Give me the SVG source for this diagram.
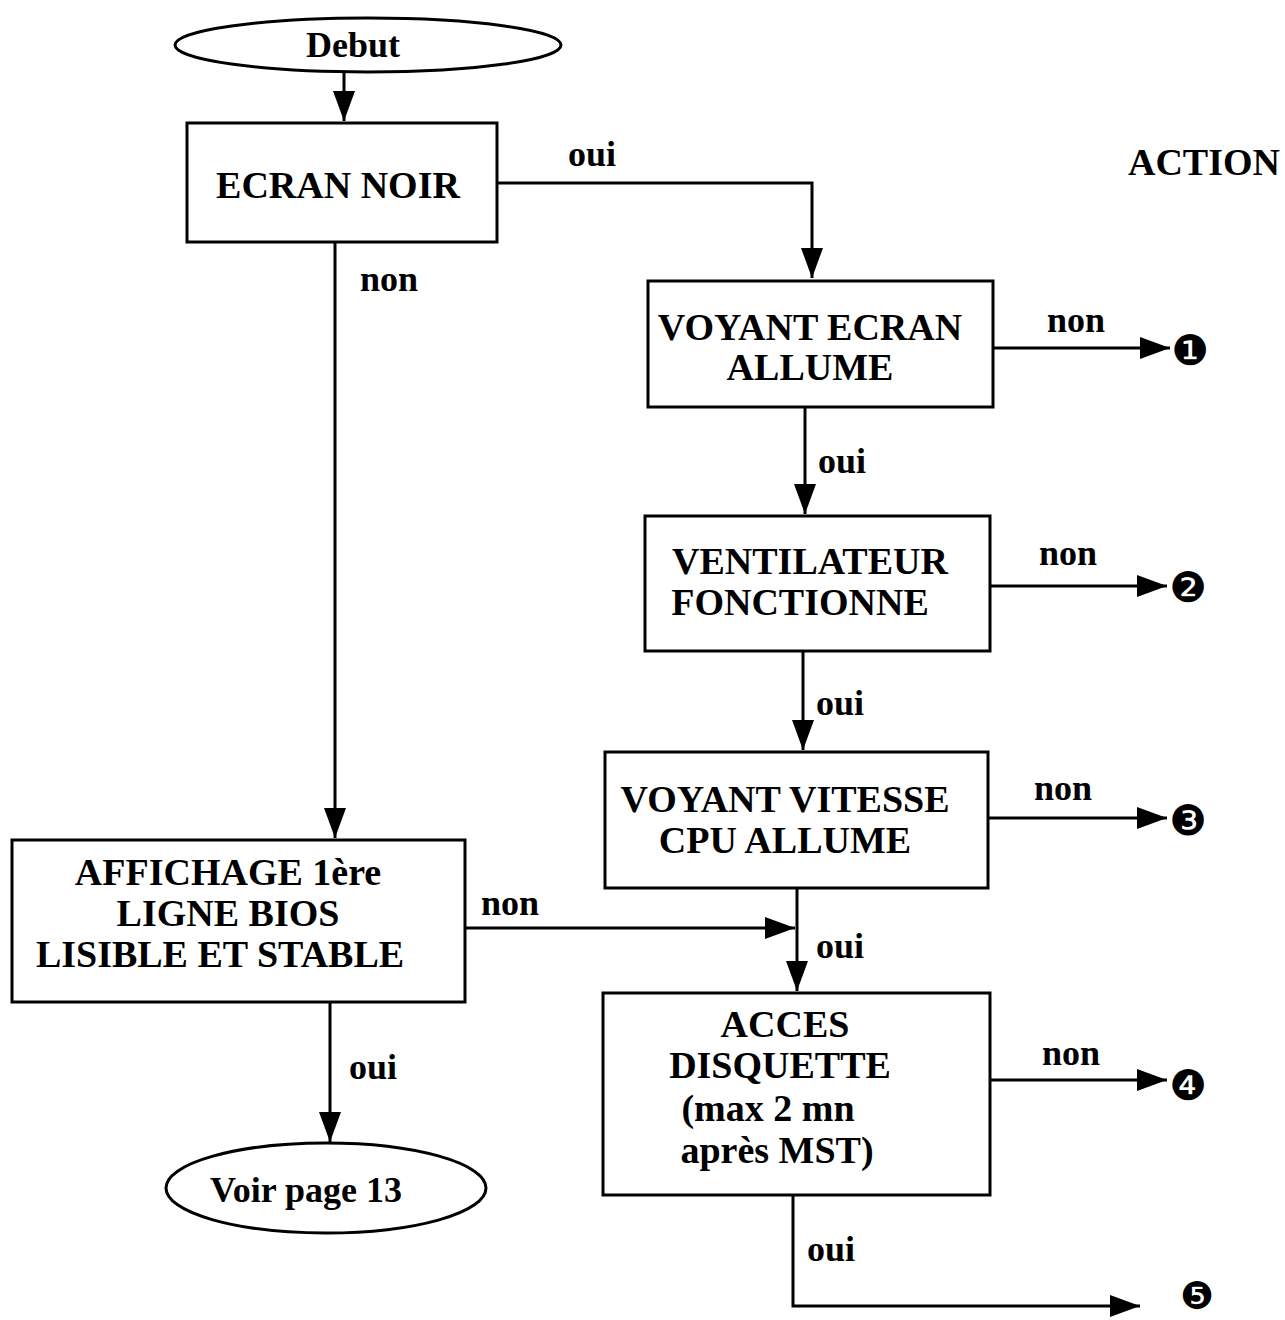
<svg xmlns="http://www.w3.org/2000/svg" width="1285" height="1320" viewBox="0 0 1285 1320">
<style>
.box{fill:#fff;stroke:#000;stroke-width:3}
.t{font-family:"Liberation Serif","Times New Roman",serif;font-weight:bold;font-size:38px;fill:#000;text-anchor:middle}
.l{font-family:"Liberation Serif","Times New Roman",serif;font-weight:bold;font-size:36px;fill:#000;text-anchor:middle}
.n{font-family:"DejaVu Sans",sans-serif;font-size:42px;fill:#000;text-anchor:middle}
.c{fill:none;stroke:#000;stroke-width:3}
</style>
<defs>
<marker id="ah" markerUnits="userSpaceOnUse" markerWidth="32" markerHeight="24" refX="30" refY="11" orient="auto">
<path d="M0,0 L30,11 L0,22 Z" fill="#000"/>
</marker>
</defs>
<rect width="1285" height="1320" fill="#fff"/>
<g id="connectors">
<path class="c" d="M344,72 V121" marker-end="url(#ah)"/>
<path class="c" d="M497,183 H812 V278" marker-end="url(#ah)"/>
<path class="c" d="M993,348 H1170" marker-end="url(#ah)"/>
<path class="c" d="M805,407 V514" marker-end="url(#ah)"/>
<path class="c" d="M990,586 H1167" marker-end="url(#ah)"/>
<path class="c" d="M803,651 V750" marker-end="url(#ah)"/>
<path class="c" d="M988,818 H1167" marker-end="url(#ah)"/>
<path class="c" d="M797,888 V991" marker-end="url(#ah)"/>
<path class="c" d="M335,242 V838" marker-end="url(#ah)"/>
<path class="c" d="M465,928 H795" marker-end="url(#ah)"/>
<path class="c" d="M990,1080 H1167" marker-end="url(#ah)"/>
<path class="c" d="M793,1195 V1306 H1140" marker-end="url(#ah)"/>
<path class="c" d="M330,1002 V1142" marker-end="url(#ah)"/>
<text class="l" x="592" y="166">oui</text>
<text class="l" x="389" y="291">non</text>
<text class="l" x="1076" y="332">non</text>
<text class="l" x="842" y="473">oui</text>
<text class="l" x="1068" y="565">non</text>
<text class="l" x="840" y="715">oui</text>
<text class="l" x="1063" y="800">non</text>
<text class="l" x="510" y="915">non</text>
<text class="l" x="840" y="958">oui</text>
<text class="l" x="1071" y="1065">non</text>
<text class="l" x="373" y="1079">oui</text>
<text class="l" x="831" y="1261">oui</text>
</g>
<g id="debut">
<ellipse class="box" cx="368" cy="45" rx="193" ry="27"/>
<text class="l" x="353" y="57">Debut</text>
</g>
<g id="ecran-noir">
<rect class="box" x="187" y="123" width="310" height="119"/>
<text class="t" x="338" y="198">ECRAN NOIR</text>
</g>
<g id="action">
<text class="t" x="1204" y="175">ACTION</text>
</g>
<g id="voyant-ecran">
<rect class="box" x="648" y="281" width="345" height="126"/>
<text class="t" x="810" y="340">VOYANT ECRAN</text>
<text class="t" x="810" y="380">ALLUME</text>
</g>
<g id="ventilateur">
<rect class="box" x="645" y="516" width="345" height="135"/>
<text class="t" x="810" y="574">VENTILATEUR</text>
<text class="t" x="800" y="615">FONCTIONNE</text>
</g>
<g id="voyant-vitesse">
<rect class="box" x="605" y="752" width="383" height="136"/>
<text class="t" x="785" y="812">VOYANT VITESSE</text>
<text class="t" x="785" y="853">CPU ALLUME</text>
</g>
<g id="affichage">
<rect class="box" x="12" y="840" width="453" height="162"/>
<text class="t" x="228" y="885">AFFICHAGE 1ère</text>
<text class="t" x="228" y="926">LIGNE BIOS</text>
<text class="t" x="220" y="967">LISIBLE ET STABLE</text>
</g>
<g id="acces">
<rect class="box" x="603" y="993" width="387" height="202"/>
<text class="t" x="785" y="1037">ACCES</text>
<text class="t" x="780" y="1078">DISQUETTE</text>
<text class="t" x="768" y="1121">(max 2 mn</text>
<text class="t" x="777" y="1163">après MST)</text>
</g>
<g id="voir-page">
<ellipse class="box" cx="326" cy="1188" rx="160" ry="45"/>
<text class="l" x="306" y="1202">Voir page 13</text>
</g>
<g id="actions">
<text class="n" x="1190" y="365">❶</text>
<text class="n" x="1188" y="602">❷</text>
<text class="n" x="1188" y="835">❸</text>
<text class="n" x="1188" y="1100">❹</text>
<text class="n" x="1197" y="1309" style="font-size:38px">❺</text>
</g>
</svg>
